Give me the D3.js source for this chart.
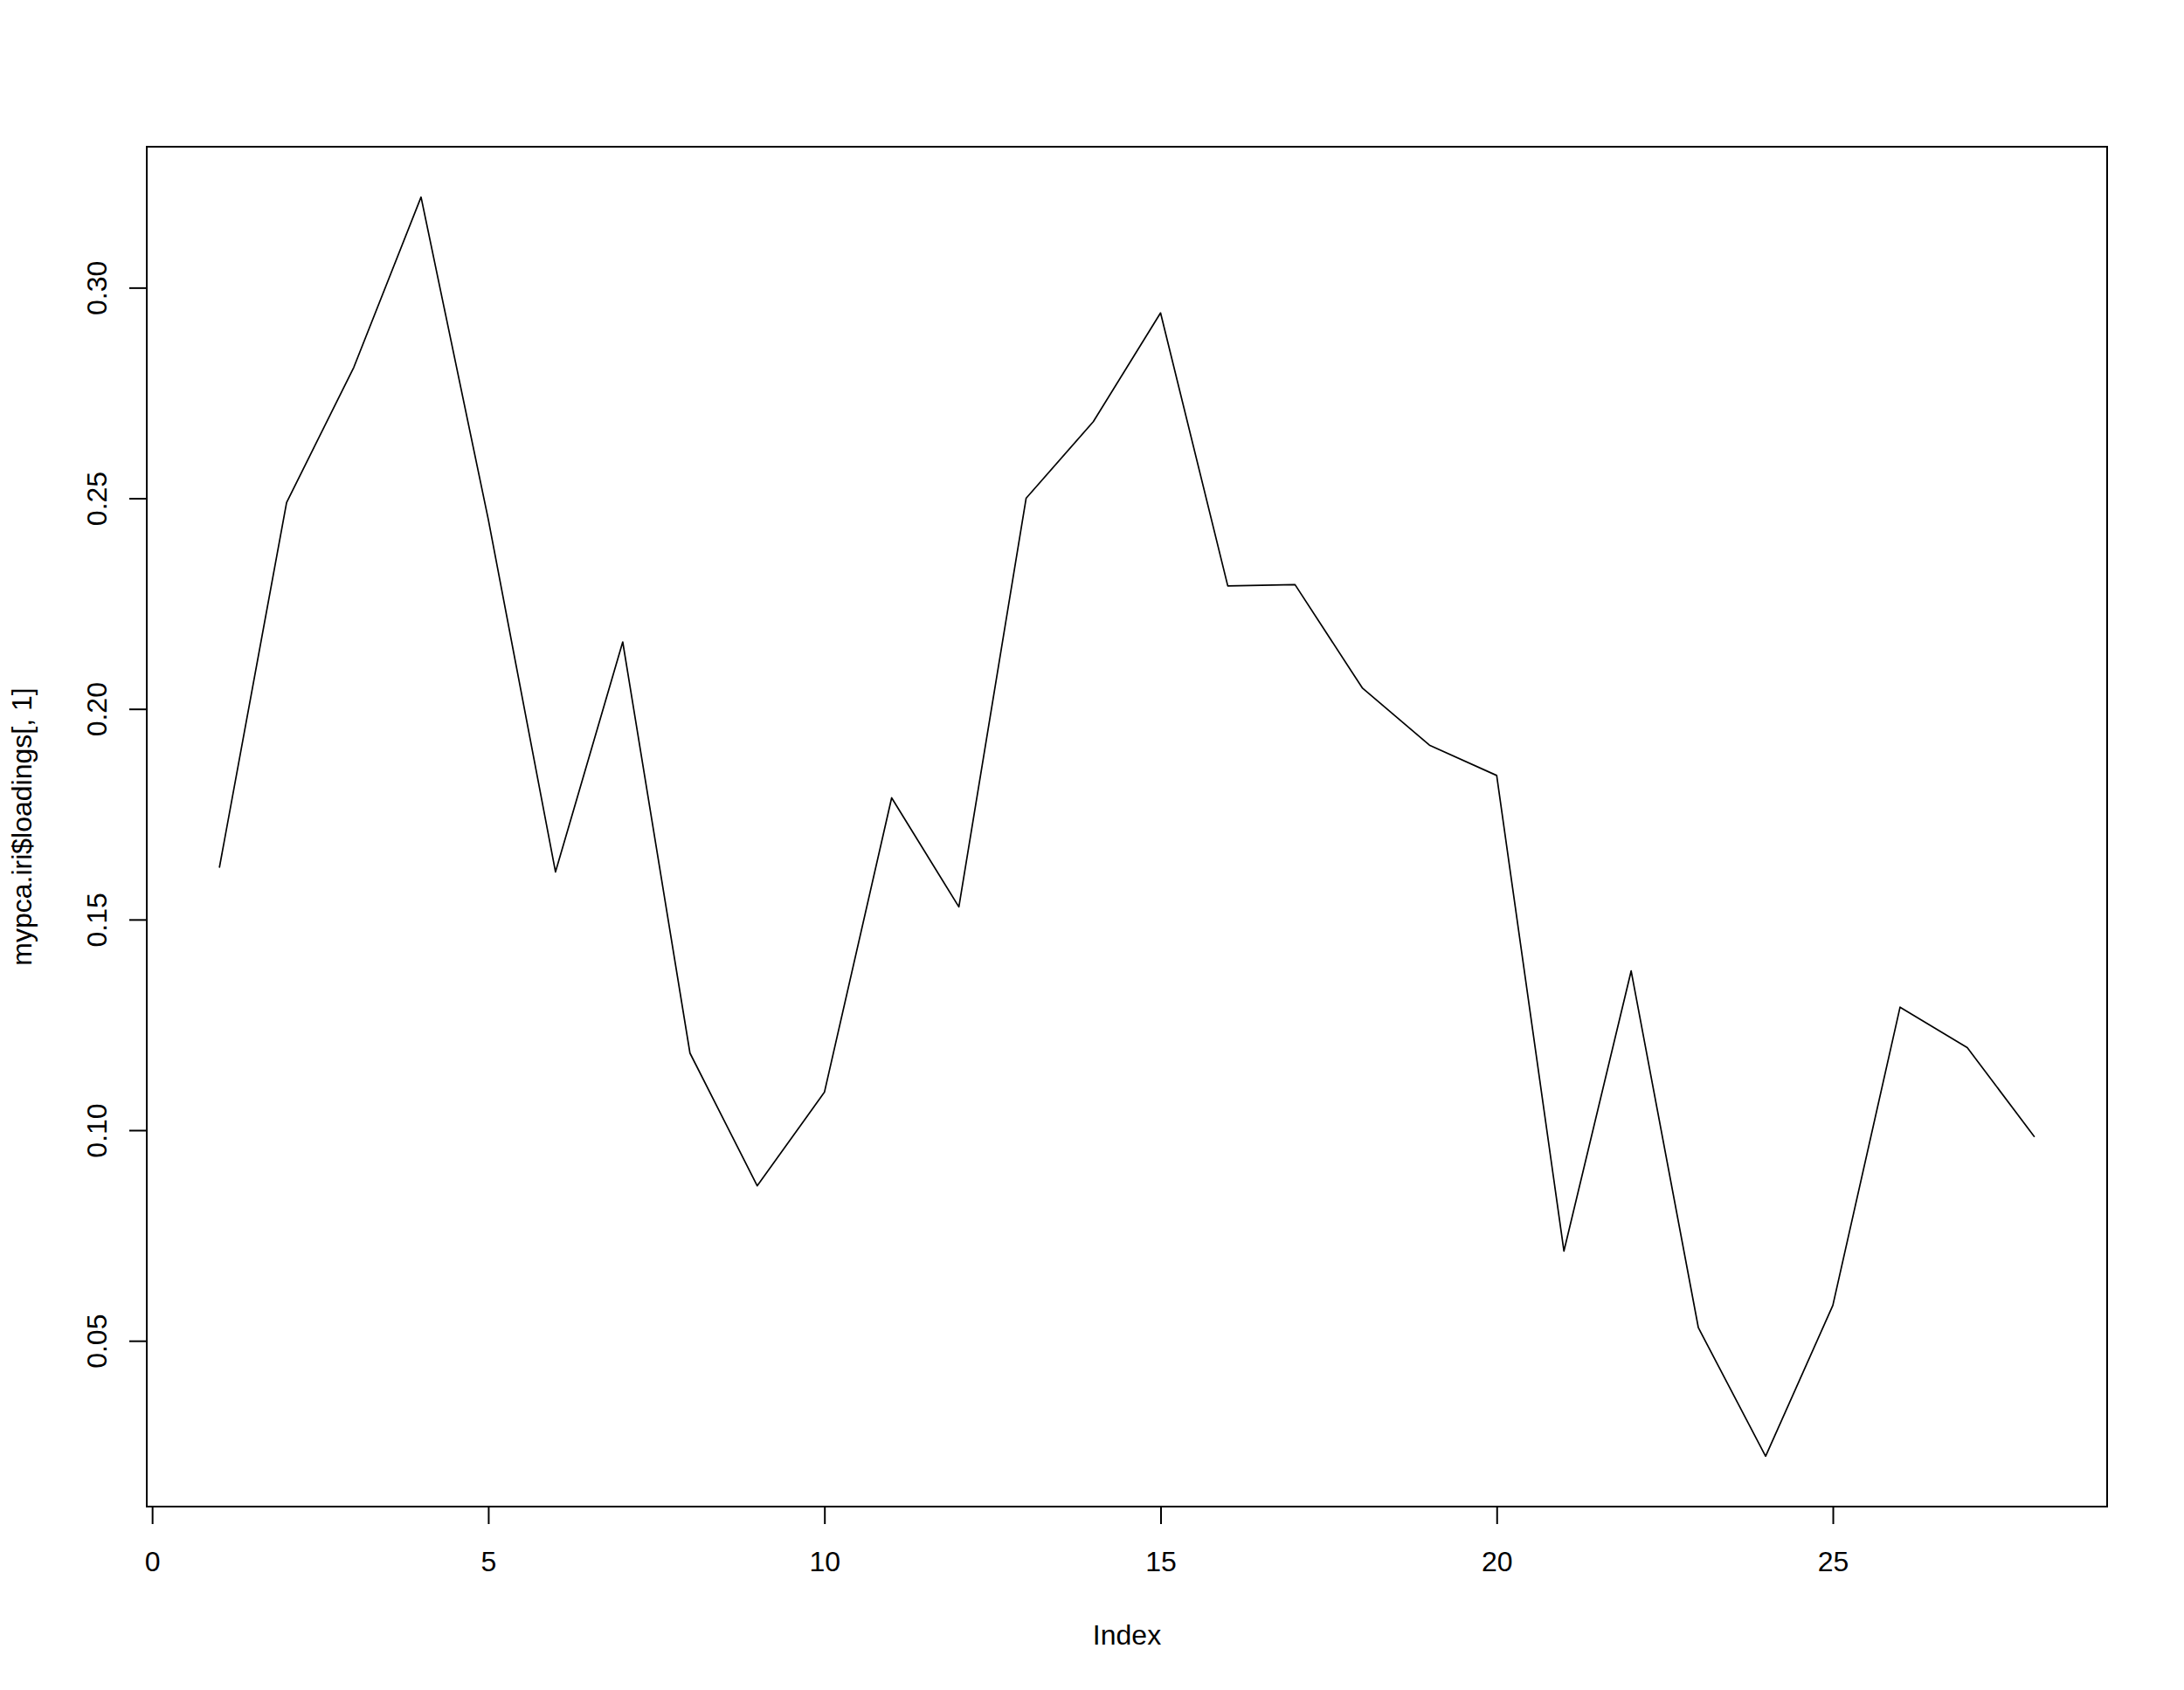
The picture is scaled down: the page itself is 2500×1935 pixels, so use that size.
<!DOCTYPE html>
<html lang="en">
<head>
<meta charset="UTF-8">
<title>mypca.iri$loadings[, 1]</title>
<style>
  html, body { margin: 0; padding: 0; background: #fff; }
  svg { display: block; }
  text { font-family: "Liberation Sans", Arial, sans-serif; fill: #000; }
</style>
</head>
<body>
<svg id="chart"></svg>
<script src="https://cdnjs.cloudflare.com/ajax/libs/d3/7.8.5/d3.min.js"></script>
<script>
// data
const index = d3.range(1, 29);
const loadings = [
  0.1623, 0.2490, 0.2811, 0.3215, 0.2450, 0.1613, 0.2159, 0.1183,
  0.0868, 0.1090, 0.1789, 0.1530, 0.2500, 0.2682, 0.2940, 0.2292,
  0.2295, 0.2050, 0.1914, 0.1842, 0.0713, 0.1378, 0.0531, 0.0226,
  0.0584, 0.1292, 0.1196, 0.0984
];
const xTicks = [0, 5, 10, 15, 20, 25];
const yTicks = [0.05, 0.10, 0.15, 0.20, 0.25, 0.30];
const xLabel = "Index";
const yLabel = "mypca.iri$loadings[, 1]";

const width = 2500, height = 1935;
const box = { left: 168, right: 2412, top: 168, bottom: 1725 };

const svg = d3.select("#chart")
  .attr("width", width)
  .attr("height", height);

// R style: extend data range by 4% on each side
function pad(ext) {
  const d = (ext[1] - ext[0]) * 0.04;
  return [ext[0] - d, ext[1] + d];
}

const x = d3.scaleLinear().domain(pad(d3.extent(index))).range([box.left, box.right]);
const y = d3.scaleLinear().domain(pad(d3.extent(loadings))).range([box.bottom, box.top]);

// x axis
const gx = svg.append("g")
  .attr("transform", `translate(0,${box.bottom})`)
  .call(d3.axisBottom(x).tickValues(xTicks).tickSize(20).tickSizeOuter(0).tickFormat(d3.format("d")));
gx.select(".domain").remove();
gx.selectAll(".tick line").attr("stroke", "#000").attr("stroke-width", 2);
gx.selectAll(".tick text")
  .attr("y", 74).attr("dy", 0)
  .attr("font-size", 32)
  .attr("font-family", "Liberation Sans, Arial, sans-serif");

// y axis
const gy = svg.append("g")
  .attr("transform", `translate(${box.left},0)`)
  .call(d3.axisLeft(y).tickValues(yTicks).tickSize(20).tickSizeOuter(0).tickFormat(d3.format(".2f")));
gy.select(".domain").remove();
gy.selectAll(".tick line").attr("stroke", "#000").attr("stroke-width", 2);
gy.selectAll(".tick text")
  .attr("x", null).attr("dy", 0)
  .attr("text-anchor", "middle")
  .attr("transform", "translate(-46,0) rotate(-90)")
  .attr("font-size", 32)
  .attr("font-family", "Liberation Sans, Arial, sans-serif");

// plot frame
svg.append("rect")
  .attr("x", box.left).attr("y", box.top)
  .attr("width", box.right - box.left).attr("height", box.bottom - box.top)
  .attr("fill", "none").attr("stroke", "#000").attr("stroke-width", 2);

// data line
const line = d3.line()
  .x((d, i) => x(index[i]))
  .y(d => y(d));

svg.append("path")
  .datum(loadings)
  .attr("d", line)
  .attr("fill", "none")
  .attr("stroke", "#000")
  .attr("stroke-width", 1.7)
  .attr("stroke-linejoin", "round");

// axis labels
svg.append("text")
  .attr("x", (box.left + box.right) / 2).attr("y", 1883)
  .attr("text-anchor", "middle").attr("font-size", 32)
  .text(xLabel);

svg.append("text")
  .attr("transform", `translate(36,${(box.top + box.bottom) / 2}) rotate(-90)`)
  .attr("text-anchor", "middle").attr("font-size", 32)
  .text(yLabel);
</script>
</body>
</html>
